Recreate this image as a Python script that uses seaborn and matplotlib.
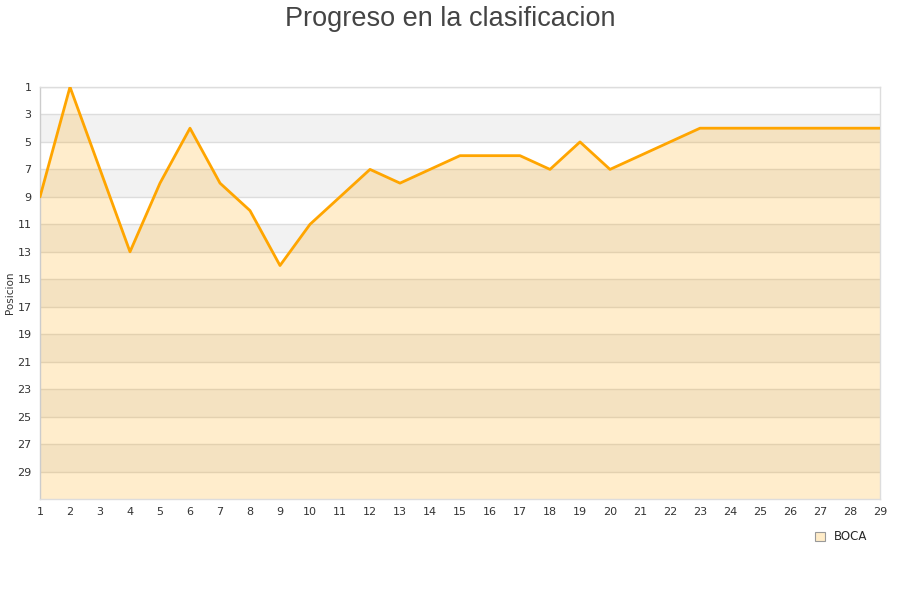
import matplotlib
matplotlib.use("Agg")
import matplotlib.pyplot as plt
from matplotlib.patches import Patch
import seaborn as sns
import pandas as pd

# Data
jornadas = list(range(1, 30))
posiciones = [9, 1, 7, 13, 8, 4, 8, 10, 14, 11, 9, 7, 8, 7, 6, 6, 6, 7, 5, 7,
              6, 5, 4, 4, 4, 4, 4, 4, 4]
equipo = "BOCA"
y_ticks = list(range(1, 30, 2))

sns.set_style("white")
plt.rcParams['font.family'] = ['DejaVu Sans']

df = pd.DataFrame({'Jornada': jornadas, 'Posicion': posiciones})

fig = plt.figure(figsize=(9, 6), dpi=100)
ax = fig.add_axes([40 / 900, 1 - 499 / 600, 840 / 900, 412 / 600])

# alternating grey bands
for start in range(3, 31, 4):
    ax.axhspan(start, start + 2, color='#f2f2f2', zorder=0, lw=0)
for t in y_ticks:
    ax.axhline(t, color='#dddddd', lw=1, zorder=1)

ax.fill_between(df['Jornada'], df['Posicion'], 31, color='#ffa500', alpha=0.2,
                lw=0, zorder=2)
sns.lineplot(data=df, x='Jornada', y='Posicion', ax=ax, color='#ffa500',
             linewidth=2, zorder=3)

ax.set_xlim(1, 29)
ax.set_ylim(31, 1)
ax.set_xticks(jornadas)
ax.set_yticks(y_ticks)
ax.tick_params(axis='both', labelsize=8, colors='#333333', length=0, pad=6)
ax.set_xlabel('')
ax.set_ylabel('Posicion', fontsize=7.5, color='#333333', labelpad=2)
for s in ax.spines.values():
    s.set_color('#dddddd')
    s.set_linewidth(1)
ax.spines['left'].set_color('#cccccc')

fig.suptitle('Progreso en la clasificacion', fontsize=19.5, color='#444444',
             family=['Liberation Sans', 'DejaVu Sans'], y=0.99)

handle = Patch(facecolor='#ffecc8', edgecolor='#999999', linewidth=0.8)
fig.legend([handle], [equipo], loc='center', bbox_to_anchor=(0.935, 0.105),
           frameon=False, fontsize=8.5, handlelength=0.8, handleheight=0.8,
           handletextpad=0.8)

fig.savefig('out.png', dpi=100)
